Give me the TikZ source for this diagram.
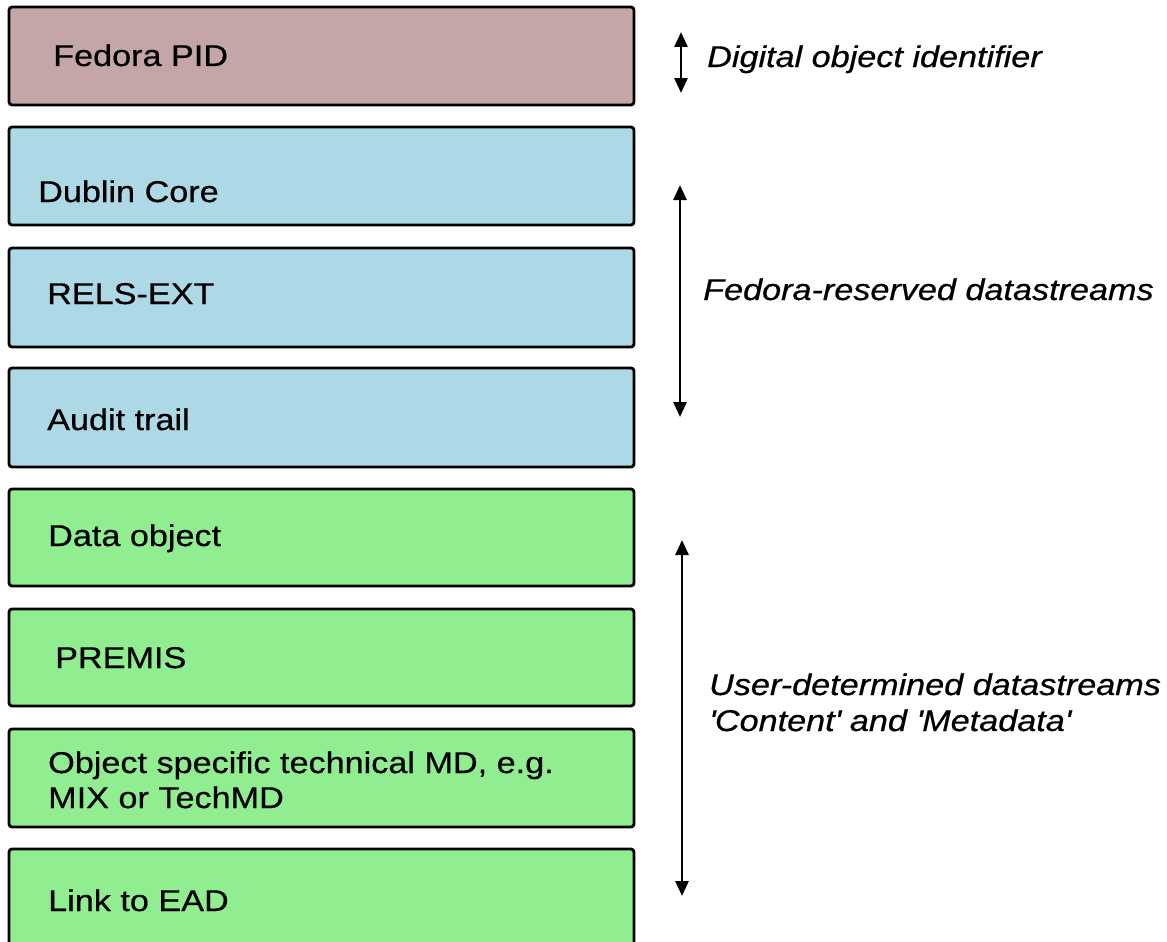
\documentclass[tikz,border=0pt]{standalone}
\usepackage{fontspec}
\setmainfont{Liberation Sans}[FakeStretch=1.14,FakeBold=0.6]
\usetikzlibrary{arrows.meta}
\definecolor{pidfill}{RGB}{196,166,166}
\definecolor{bluefill}{RGB}{173,216,230}
\definecolor{greenfill}{RGB}{144,238,144}
\tikzset{
  layerbox/.style={draw=black, line width=2.8pt, rounded corners=3pt},
  boxtext/.style={anchor=base west, inner sep=0pt, font=\fontsize{30}{35}\selectfont},
  sidetext/.style={anchor=base west, inner sep=0pt, font=\fontsize{30}{36}\selectfont\itshape},
  span/.style={line width=2.8pt, {Triangle[width=13pt,length=15pt]}-{Triangle[width=13pt,length=15pt]}}
}
\begin{document}
\begin{tikzpicture}[x=1pt,y=-1pt]
\useasboundingbox (0,0) rectangle (1167,942);
\clip (0,0) rectangle (1167,942);
\fill[white] (0,0) rectangle (1167,942);
% boxes
\draw[layerbox, fill=pidfill] (9,7) rectangle (634,105);
\draw[layerbox, fill=bluefill] (9,127) rectangle (634,225);
\draw[layerbox, fill=bluefill] (9,248) rectangle (634,347);
\draw[layerbox, fill=bluefill] (9,368) rectangle (634,467);
\draw[layerbox, fill=greenfill] (9,489) rectangle (634,586);
\draw[layerbox, fill=greenfill] (9,609) rectangle (634,706);
\draw[layerbox, fill=greenfill] (9,729) rectangle (634,827);
\draw[layerbox, fill=greenfill] (9,849) rectangle (634,960);
% box texts
\node[boxtext] (pid) at (53,66) {Fedora PID};
\node[boxtext] (dc) at (38,202) {Dublin Core};
\node[boxtext] (rels) at (47,304) {RELS-EXT};
\node[boxtext] (audit) at (47,430) {Audit trail};
\node[boxtext] (data) at (48,546) {Data object};
\node[boxtext] (premis) at (55,668) {PREMIS};
\node[boxtext] (tech1) at (48,773) {Object specific technical MD, e.g.};
\node[boxtext] (tech2) at (48,808) {MIX or TechMD};
\node[boxtext] (ead) at (48,911) {Link to EAD};
% side labels
\node[sidetext] (lpid) at (707,67) {Digital object identifier};
\node[sidetext] (lres) at (703,300) {Fedora-reserved datastreams};
\node[sidetext] (luser1) at (709,695) {User-determined datastreams};
\node[sidetext] (luser2) at (709,731) {\textquotesingle Content\textquotesingle{} and \textquotesingle Metadata\textquotesingle};
% arrows
\coordinate (a1t) at (681,32);
\coordinate (a1b) at (681,93);
\coordinate (a2t) at (680,185);
\coordinate (a2b) at (680,417);
\coordinate (a3t) at (682,540);
\coordinate (a3b) at (682,896);
\draw[span] (a1t) -- (a1b);
\draw[span] (a2t) -- (a2b);
\draw[span] (a3t) -- (a3b);
\end{tikzpicture}
\end{document}
